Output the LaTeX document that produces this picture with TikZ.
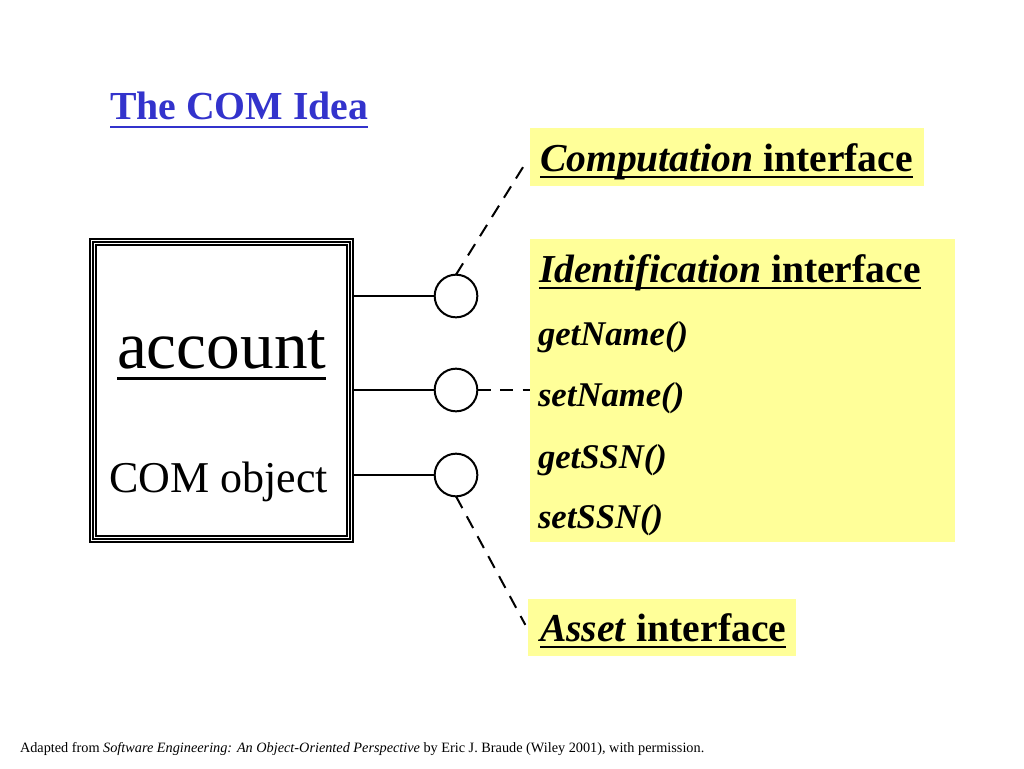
\documentclass[tikz,border=0pt]{standalone}
\usepackage{fontspec}
\setmainfont{Liberation Serif}
\definecolor{titleblue}{HTML}{3333CC}
\definecolor{note}{HTML}{FFFF99}
\begin{document}
\begin{tikzpicture}[x=0.75pt,y=-0.75pt,
  every node/.style={inner sep=0pt, outer sep=0pt},
  txt/.style={anchor=base west},
  hdr/.style={txt, font=\fontsize{29.7}{34}\selectfont},
  meth/.style={txt, font=\fontsize{26}{30}\selectfont\bfseries\itshape},
  ybox/.style={fill=note, draw=none, rectangle},
  port/.style={circle, draw, line width=1.5pt, minimum size=32pt, fill=white},
  link/.style={line width=1.5pt},
  dlink/.style={line width=1.5pt, dash pattern=on 10pt off 7pt},
  ul/.style={line width=2.2pt},
]
\useasboundingbox (0,0) rectangle (1024,768);
\fill[white] (0,0) rectangle (1024,768);

% title
\node[txt, text=titleblue, font=\fontsize{29.8}{34}\selectfont\bfseries] (title) at (110,119) {The COM Idea};
\draw[ul, titleblue] ([yshift=-6pt]title.base west) -- ([yshift=-6pt]title.base east);

% yellow boxes
\node[ybox, minimum width=394*0.75pt, minimum height=58*0.75pt] (comp) at (727,157) {};
\node[ybox, minimum width=425*0.75pt, minimum height=303*0.75pt] (ident) at (742.5,390.5) {};
\node[ybox, minimum width=268*0.75pt, minimum height=57*0.75pt] (asset) at (662,627.5) {};

% object box
\node[draw, line width=1.5pt, minimum width=263*0.75pt, minimum height=303*0.75pt] (obj) at (221.5,390.5) {};
\draw[line width=0.8pt] ([shift={(3,3)}]obj.north west) rectangle ([shift={(-3,-3)}]obj.south east);
\draw[line width=1.2pt] ([shift={(6,6)}]obj.north west) rectangle ([shift={(-6,-6)}]obj.south east);
\node[txt, font=\fontsize{50.5}{56}\selectfont] (acc) at (117,368) {account};
\draw[line width=2.2pt] ([yshift=-8pt]acc.base west) -- ([yshift=-8pt]acc.base east);
\node[txt, font=\fontsize{33}{38}\selectfont] (com) at (109,492) {COM object};

% ports
\node[port] (p1) at (456,296) {};
\node[port] (p2) at (456,390) {};
\node[port] (p3) at (456,475) {};
\draw[link] (obj.east |- p1) -- (p1);
\draw[link] (obj.east |- p2) -- (p2);
\draw[link] (obj.east |- p3) -- (p3);

% dashed connectors
\coordinate (e1) at ([xshift=-3pt,yshift=-4pt]comp.west);
\coordinate (e3) at ([xshift=-2pt,yshift=2pt]asset.west);
\draw[dlink] (p1.north) -- (e1);
\draw[dlink] (p2) -- (p2 -| ident.west);
\draw[dlink] (p3.south) -- (e3);

% interface texts
\node[hdr] (tc) at (540,171) {\textbf{\textit{Computation}} \textbf{interface}};
\draw[ul] ([yshift=-4.5pt]tc.base west) -- ([yshift=-4.5pt]tc.base east);
\node[hdr] (ti) at (539,282) {\textbf{\textit{Identification}} \textbf{interface}};
\draw[ul] ([yshift=-4.5pt]ti.base west) -- ([yshift=-4.5pt]ti.base east);
\node[hdr] (ta) at (540,641) {\textbf{\textit{Asset}} \textbf{interface}};
\draw[ul] ([yshift=-4.5pt]ta.base west) -- ([yshift=-4.5pt]ta.base east);

\node[meth] (m1) at (538,345) {getName()};
\node[meth] (m2) at (538,406) {setName()};
\node[meth] (m3) at (538,468) {getSSN()};
\node[meth] (m4) at (538,528) {setSSN()};

% footer
\node[txt, font=\fontsize{10.7}{12}\selectfont] (foot) at (20,752) {Adapted from \textit{Software Engineering: An Object-Oriented Perspective} by Eric J. Braude (Wiley 2001), with permission.};
\end{tikzpicture}
\end{document}
